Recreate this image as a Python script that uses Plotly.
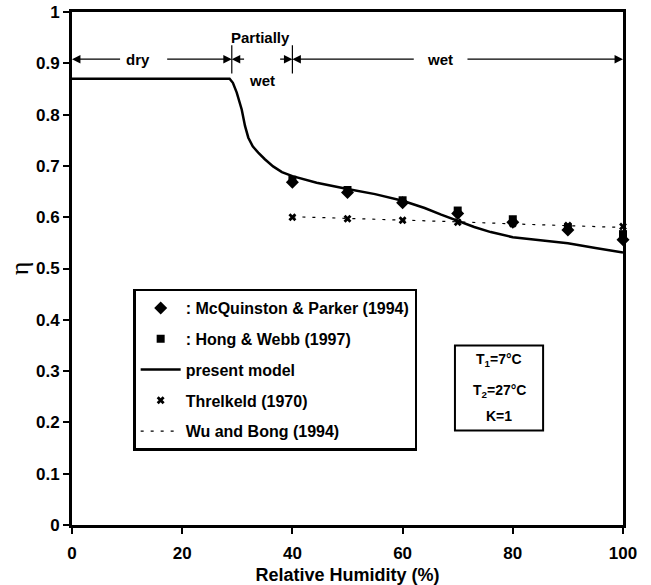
import plotly.graph_objects as go

# ---- data ----
rh_exp = [40, 50, 60, 70, 80, 90, 100]
eta_mcquinston = [0.668, 0.648, 0.628, 0.607, 0.590, 0.575, 0.556]
eta_hong = [0.673, 0.653, 0.633, 0.613, 0.596, 0.580, 0.567]
eta_threlkeld = [0.600, 0.597, 0.594, 0.590, 0.587, 0.584, 0.582]
eta_wu = [0.601, 0.598, 0.594, 0.591, 0.587, 0.584, 0.580]

rh_model = [0, 10, 20, 28.6, 29.2, 29.9, 30.8, 31.4, 32.0, 32.8, 33.8, 35.0, 36.5,
            38.1, 40, 44.4, 50, 55, 60, 64, 67, 70, 73, 76, 80, 85, 90, 95, 100]
eta_model = [0.870, 0.870, 0.870, 0.870, 0.862, 0.843, 0.810, 0.778, 0.755, 0.738,
             0.726, 0.713, 0.699, 0.688, 0.680, 0.667, 0.655, 0.645, 0.632, 0.618,
             0.605, 0.593, 0.581, 0.571, 0.561, 0.555, 0.549, 0.540, 0.531]

x_ticks = [0, 20, 40, 60, 80, 100]
y_ticks = [0, 0.1, 0.2, 0.3, 0.4, 0.5, 0.6, 0.7, 0.8, 0.9, 1]

FONT = "Liberation Sans"
BLACK = "black"

fig = go.Figure()

fig.add_trace(go.Scatter(
    x=rh_exp, y=eta_mcquinston, mode="markers", name="<b>: McQuinston & Parker (1994)</b>",
    marker=dict(symbol="diamond", size=10, color=BLACK), cliponaxis=False,
    legendgroup="a"))
fig.add_trace(go.Scatter(
    x=rh_exp, y=eta_hong, mode="markers", name="<b>: Hong & Webb (1997)</b>",
    marker=dict(symbol="square", size=8, color=BLACK), cliponaxis=False,
    legendgroup="b"))
fig.add_trace(go.Scatter(
    x=rh_model, y=eta_model, mode="lines", name="<b>present model</b>",
    line=dict(color=BLACK, width=2.5),
    legendgroup="c"))
fig.add_trace(go.Scatter(
    x=rh_exp, y=eta_threlkeld, mode="markers", name="<b>Threlkeld (1970)</b>",
    marker=dict(symbol="x", size=7, color=BLACK), cliponaxis=False,
    legendgroup="d"))
fig.add_trace(go.Scatter(
    x=rh_exp, y=eta_wu, mode="lines", name="<b>Wu and Bong (1994)</b>",
    line=dict(color=BLACK, width=1.2, dash="3px,7px"),
    legendgroup="e"))

shapes = []
# region separators
for xv in [29, 40]:
    shapes.append(dict(type="line", xref="x", yref="y", x0=xv, x1=xv, y0=0.88, y1=0.935,
                       line=dict(color=BLACK, width=1.2)))
# parameter box
shapes.append(dict(type="rect", xref="x", yref="y", x0=69.5, x1=85.5, y0=0.184, y1=0.350,
                   line=dict(color=BLACK, width=2), fillcolor="white", layer="below"))

annotations = []
AY = 0.908


def arrow(x_tip, x_tail):
    annotations.append(dict(x=x_tip, y=AY, ax=x_tail, ay=AY, xref="x", yref="y",
                            axref="x", ayref="y", text="", showarrow=True,
                            arrowhead=2, arrowsize=1.3, arrowwidth=1.3,
                            arrowcolor=BLACK))


arrow(0, 9.0)
arrow(29, 17.0)
arrow(29, 31.5)
arrow(40, 37.5)
arrow(40, 62.3)
arrow(100, 71.5)

tfont = dict(family=FONT, size=15, color=BLACK)
for txt, xv, yv in [("<b>dry</b>", 12.0, AY), ("<b>wet</b>", 66.8, AY),
                    ("<b>Partially</b>", 34.3, 0.951), ("<b>wet</b>", 34.5, 0.866)]:
    annotations.append(dict(x=xv, y=yv, xref="x", yref="y", text=txt, showarrow=False,
                            font=tfont))

for txt, yv in [("<b>T<sub>1</sub>=7°C</b>", 0.321), ("<b>T<sub>2</sub>=27°C</b>", 0.262),
                ("<b>K=1</b>", 0.212)]:
    annotations.append(dict(x=77.5, y=yv, xref="x", yref="y", text=txt, showarrow=False,
                            font=dict(family=FONT, size=14, color=BLACK)))

fig.update_layout(
    width=651, height=585,
    margin=dict(l=72, r=28, t=12, b=60, autoexpand=False),
    plot_bgcolor="white", paper_bgcolor="white",
    font=dict(family=FONT, color=BLACK),
    shapes=shapes, annotations=annotations,
    showlegend=True,
    legend=dict(x=0.111, y=0.461, xanchor="left", yanchor="top",
                bgcolor="white", bordercolor=BLACK, borderwidth=2.5,
                font=dict(family=FONT, size=16, color=BLACK),
                traceorder="grouped", tracegroupgap=7,
                itemwidth=40),
    xaxis=dict(range=[0, 100], tickmode="array", tickvals=x_ticks,
               ticktext=[f"<b>{v}</b>" for v in x_ticks], automargin=False,
               showgrid=False, zeroline=False, showline=True, linecolor=BLACK,
               linewidth=3, mirror=True, ticks="outside", ticklen=6, tickwidth=2,
               tickcolor=BLACK, tickfont=dict(family=FONT, size=17, color=BLACK),
               ticklabelstandoff=5,
               title=dict(text="<b>Relative Humidity (%)</b>",
                          font=dict(family=FONT, size=18, color=BLACK), standoff=12)),
    yaxis=dict(range=[0, 1], tickmode="array", tickvals=y_ticks,
               ticktext=[f"<b>{v:g}</b>" for v in y_ticks], automargin=False,
               showgrid=False, zeroline=False, showline=True, linecolor=BLACK,
               linewidth=3, mirror=True, ticks="outside", ticklen=6, tickwidth=2,
               tickcolor=BLACK, tickfont=dict(family=FONT, size=17, color=BLACK),
               title=dict(text="η", font=dict(family="Liberation Serif", size=26,
                                               color=BLACK), standoff=0)),
)

fig.write_html("out.html")
